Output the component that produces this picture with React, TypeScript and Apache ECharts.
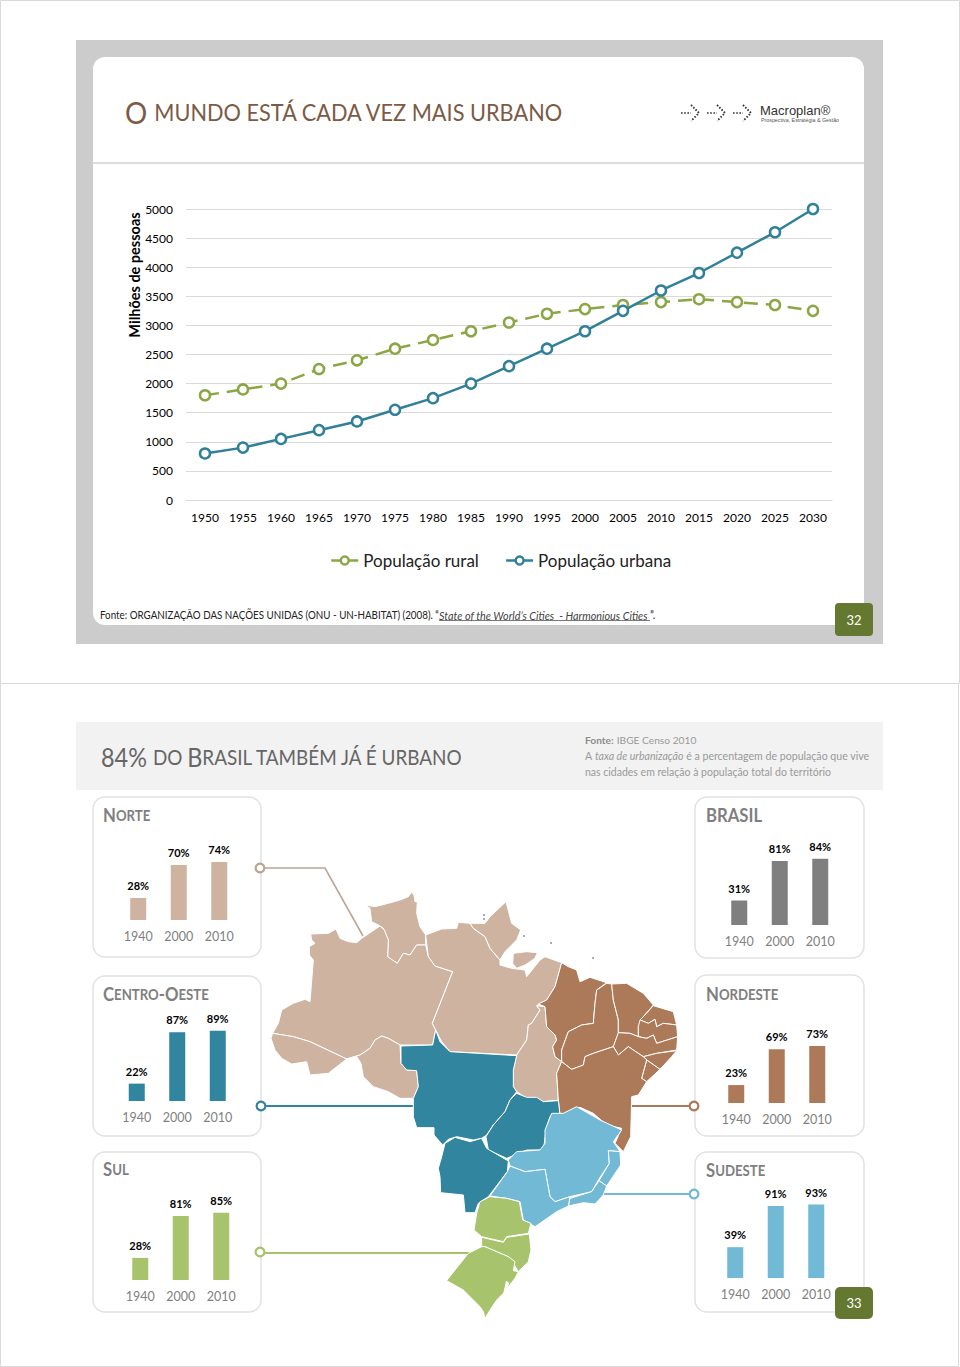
import React, { useEffect, useRef } from "react";
import * as echarts from "echarts";

const years = ["1950","1955","1960","1965","1970","1975","1980","1985","1990","1995","2000","2005","2010","2015","2020","2025","2030"];
const rural = [1800,1900,2000,2250,2400,2600,2750,2900,3050,3200,3280,3350,3400,3450,3400,3350,3250];
const urbana = [800,900,1050,1200,1350,1550,1750,2000,2300,2600,2900,3250,3600,3900,4250,4600,5000];
const censusYears = ["1940","2000","2010"];
const norte = [28,70,74];
const brasil = [31,81,84];
const centroOeste = [22,87,89];
const nordeste = [23,69,73];
const sul = [28,81,85];
const sudeste = [39,91,93];

const C = { norte:"#CEB3A1", nordeste:"#AD7A59", co:"#31859F", se:"#71B9D4", sul:"#A7C36B", brasil:"#7F7F7F", ruralLine:"#8BA644", urbanLine:"#31809A", green:"#64782F" };
const FONT = "Lato";

const panels = [
  { big:"N", small:"ORTE", values:norte, color:C.norte, card:[93,797,168,160], left:118, base:920, scale:78.5, tx:103, ty:815 },
  { big:"BRASIL", small:"", values:brasil, color:C.brasil, card:[695,797,169,161], left:719, base:925, scale:79, tx:706, ty:815 },
  { big:"C", small:"ENTRO", big2:"-O", small2:"ESTE", values:centroOeste, color:C.co, card:[93,976,168,160], left:116.5, base:1101, scale:79, tx:103, ty:994 },
  { big:"N", small:"ORDESTE", values:nordeste, color:C.nordeste, card:[695,975,169,161], left:716, base:1103, scale:78, tx:706, ty:994 },
  { big:"S", small:"UL", values:sul, color:C.sul, card:[93,1152,168,160], left:120, base:1280, scale:79, tx:103, ty:1169 },
  { big:"S", small:"UDESTE", values:sudeste, color:C.se, card:[695,1152,169,160], left:715, base:1278, scale:79, tx:706, ty:1170 },
];

const a = (pts: number[][]) => pts.map(([x,y]) => [260 + x/3, 860 + y/3]);
const b = (pts: number[][]) => pts.map(([x,y]) => [400 + x/3, 1080 + y/3]);

const mapNorte = [
  a([[315,135],[345,140],[385,130],[420,120],[445,110],[455,97],[462,105],[465,125],[472,125],[470,160],[480,200],[497,225],[497,255],[470,255],[450,285],[430,280],[412,310],[395,300],[383,290],[385,240],[370,205],[355,195],[335,185],[330,145]]),
  a([[152,222],[205,220],[228,207],[240,235],[265,245],[290,248],[305,235],[360,198],[373,210],[385,240],[383,290],[412,310],[430,280],[450,285],[470,255],[497,255],[505,290],[525,318],[578,335],[517,490],[527,510],[518,555],[420,555],[385,535],[365,528],[345,540],[330,565],[300,585],[260,597],[150,545],[100,530],[38,520],[55,490],[65,450],[100,430],[135,418],[150,425],[160,300],[148,285],[148,260],[165,250],[155,240]]),
  a([[38,520],[100,530],[150,545],[260,597],[205,640],[150,645],[140,605],[95,612],[65,595],[45,570],[33,535]]),
  a([[260,597],[300,585],[330,565],[345,540],[365,528],[385,535],[420,555],[423,610],[440,630],[470,632],[475,680],[460,715],[420,715],[385,695],[340,680],[310,650],[303,610],[290,590]]),
  a([[497,225],[545,207],[590,205],[595,187],[630,190],[640,205],[675,230],[690,265],[720,300],[720,315],[755,325],[795,330],[800,350],[840,300],[855,290],[905,308],[885,380],[860,420],[830,437],[840,450],[815,490],[805,495],[800,540],[770,585],[570,575],[545,545],[527,510],[517,490],[578,335],[525,318],[505,290]]),
  a([[630,190],[675,190],[690,170],[738,125],[755,190],[782,210],[770,240],[735,275],[720,300],[690,265],[675,230],[640,205]]),
  a([[760,280],[800,275],[832,278],[825,295],[795,315],[770,325],[758,310]]),
  a([[830,437],[855,440],[860,500],[885,525],[890,540],[878,560],[885,590],[905,605],[890,640],[895,720],[850,725],[830,715],[800,715],[770,695],[760,680],[760,630],[770,585],[800,540],[805,495],[815,490],[840,450]]),
];
const mapNordeste = [
  a([[905,308],[925,320],[950,330],[960,365],[990,352],[1040,368],[1010,390],[1005,430],[1000,490],[965,495],[925,515],[905,570],[905,605],[885,590],[878,560],[890,540],[885,525],[860,500],[855,440],[835,432],[860,420],[885,380]]),
  a([[1040,370],[1055,372],[1060,420],[1075,480],[1075,520],[1060,560],[1000,580],[975,590],[970,615],[935,628],[905,605],[905,570],[925,515],[965,495],[1000,490],[1005,430],[1010,390]]),
  a([[1055,372],[1100,370],[1150,400],[1180,435],[1150,470],[1135,500],[1135,530],[1110,520],[1075,518],[1075,480],[1060,420]]),
  a([[1180,437],[1240,455],[1250,495],[1210,490],[1190,500],[1185,478],[1165,490],[1140,480],[1150,470]]),
  a([[1140,480],[1165,490],[1185,478],[1190,500],[1210,490],[1250,495],[1253,530],[1190,550],[1180,525],[1160,535],[1135,530],[1135,500]]),
  a([[1075,518],[1110,520],[1135,530],[1160,535],[1180,525],[1190,550],[1253,530],[1250,570],[1190,580],[1150,590],[1105,560],[1075,585],[1060,560]]),
  a([[1150,590],[1190,580],[1250,572],[1235,590],[1200,628],[1160,600]]),
  a([[1160,600],[1200,628],[1160,665],[1145,655]]),
  a([[890,640],[905,605],[935,628],[970,615],[975,590],[1000,580],[1060,560],[1075,585],[1105,560],[1150,590],[1160,600],[1145,655],[1160,665],[1135,705],[1115,710],[1112,830],[1090,875],[1065,850],[1085,805],[1040,795],[1000,760],[960,742],[900,765],[895,720]]),
];
const mapCO = [
  a([[423,558],[518,555],[527,510],[540,545],[570,575],[770,587],[760,630],[760,680],[770,695],[750,720],[735,755],[700,795],[680,825],[665,835],[640,840],[590,830],[565,838],[548,855],[522,825],[522,803],[470,803],[460,770],[460,715],[475,680],[470,632],[440,630],[423,610]]),
  a([[770,700],[800,712],[830,712],[850,725],[895,722],[900,765],[870,770],[860,800],[850,870],[800,870],[740,895],[685,870],[678,830],[700,795],[735,755],[750,720]]),
  b([[135,190],[165,172],[210,185],[245,175],[260,205],[325,243],[322,275],[265,350],[235,370],[225,398],[195,398],[190,345],[122,338],[120,290],[115,265],[125,230]]),
];
const mapSudeste = [
  b([[325,240],[350,215],[420,210],[435,190],[435,150],[455,100],[490,100],[530,80],[600,120],[665,150],[640,185],[660,215],[625,212],[628,250],[595,300],[575,335],[510,350],[465,365],[450,350],[435,268],[375,275],[330,258]]),
  b([[625,212],[660,215],[662,255],[620,318],[597,302],[628,250]]),
  b([[597,302],[620,318],[610,345],[585,372],[550,368],[505,378],[510,355],[575,335]]),
  b([[330,258],[375,275],[435,268],[450,350],[465,365],[510,350],[505,378],[470,395],[405,440],[370,420],[360,365],[320,355],[270,348],[322,275]]),
];
const mapSul = [
  b([[270,350],[320,355],[358,365],[368,420],[393,430],[385,460],[320,470],[310,485],[245,470],[222,450],[230,400],[240,365]]),
  b([[245,472],[310,487],[320,472],[388,462],[393,510],[385,545],[355,575],[340,550],[325,530],[255,500],[245,500]]),
  b([[245,500],[255,500],[325,530],[345,545],[340,572],[355,575],[345,595],[310,640],[290,660],[270,690],[255,715],[250,695],[240,680],[190,630],[140,602],[165,570],[205,520]]),
];
const lagoon = b([[318,602],[328,608],[318,640],[310,640]]);

function text(x: number, y: number, t: string, opt: any = {}, z = 10) {
  return { type:"text", x, y, z, style:{ text:t, fontFamily:FONT, fill:"#000", verticalAlign:"middle", ...opt } };
}
function rect(x: number, y: number, w: number, h: number, style: any, r = 0, z = -1) {
  return { type:"rect", z, shape:{ x, y, width:w, height:h, r }, style };
}
function line(pts: number[][], stroke: string, lineWidth = 2, z = 3, extra: any = {}) {
  return { type:"polyline", z, shape:{ points:pts }, style:{ stroke, lineWidth, fill:"none", ...extra } };
}
function node(x: number, y: number, stroke: string) {
  return { type:"circle", z:6, shape:{ cx:x, cy:y, r:4.4 }, style:{ fill:"#fff", stroke, lineWidth:2.2 } };
}
const poly = (list: number[][][], fill: string) => list.map((points) => ({ type:"polygon", z:4, shape:{ points }, style:{ fill, stroke:"#fff", lineWidth:1, lineJoin:"round" } }));

function logoArrow(x: number) {
  const s = { lineDash:[1.6,1.6] };
  return [
    line([[x,113],[x+10,113]], "#333", 1.7, 5, s),
    line([[x+10,105],[x+18,113],[x+10,121]], "#333", 1.9, 5, s),
  ];
}

function buildGraphic() {
  const els: any[] = [];
  els.push(rect(0.5,0.5,959,683,{ fill:"#fff", stroke:"#D9D9D9", lineWidth:1 }, 0, -3));
  els.push(rect(0.5,683.5,958,683,{ fill:"#fff", stroke:"#D9D9D9", lineWidth:1 }, 0, -3));
  els.push(rect(76,40,807,604,{ fill:"#CCCCCC" }));
  els.push(rect(93,57,771,568,{ fill:"#fff" },12));
  els.push(line([[93,163],[864,163]],"#D2D2D2",1.5,0));
  els.push({ type:"text", x:125, y:112, scaleX:0.925, z:10, style:{ text:"{a|O }{b|MUNDO ESTÁ CADA VEZ MAIS URBANO}", fontFamily:FONT, verticalAlign:"middle", rich:{ a:{ fontSize:30, fill:"#7B5B46", fontFamily:FONT }, b:{ fontSize:23.5, fill:"#7B5B46", fontFamily:FONT } } } });
  els.push(...logoArrow(681), ...logoArrow(707), ...logoArrow(733));
  els.push(text(760,110,"Macroplan®",{ fontFamily:"Liberation Sans", fontSize:13, fill:"#333" }));
  els.push(text(761,120,"Prospectiva, Estratégia & Gestão",{ fontFamily:"Liberation Sans", fontSize:5.3, fill:"#555" }));
  els.push({ type:"text", x:134, y:275, rotation:Math.PI/2, z:10, style:{ text:"Milhões de pessoas", fontFamily:FONT, fontSize:14.5, fontWeight:"bold", fill:"#000", align:"center", verticalAlign:"middle" } });
  els.push({ type:"text", x:100, y:615, scaleX:0.934, z:10, style:{ text:"Fonte: ORGANIZAÇÃO DAS NAÇÕES UNIDAS (ONU - UN-HABITAT) (2008). “", fontFamily:FONT, fontSize:10.5, fill:"#222", verticalAlign:"middle" } });
  els.push({ type:"text", x:439, y:615, z:10, style:{ text:"State of the World’s Cities  - Harmonious Cities", fontFamily:FONT, fontSize:10.8, fontStyle:"italic", fill:"#444", verticalAlign:"middle" } });
  els.push(text(650,615,"”.",{ fontSize:10.5, fill:"#222" }));
  els.push(line([[439,620.5],[650,620.5]],"#555",0.8,10));
  els.push(rect(835,603,38,33,{ fill:C.green },4,8));
  els.push(text(854,619.5,"32",{ fill:"#fff", fontSize:13, align:"center" }));

  els.push(rect(76,722,807,68,{ fill:"#F2F2F2" }));
  els.push({ type:"text", x:101, y:757, scaleX:0.9, z:10, style:{ text:"{a|84% }{b|DO }{a|B}{b|RASIL TAMBÉM JÁ É URBANO}", fontFamily:FONT, verticalAlign:"middle", rich:{ a:{ fontSize:26, fill:"#666", fontFamily:FONT }, b:{ fontSize:21, fill:"#666", fontFamily:FONT } } } });
  els.push({ type:"text", x:585, y:740, z:10, style:{ text:"{b|Fonte:} {a|IBGE Censo 2010}", fontFamily:FONT, verticalAlign:"middle", rich:{ b:{ fontSize:10.2, fontWeight:"bold", fill:"#8C8C8C", fontFamily:FONT }, a:{ fontSize:10.2, fill:"#999", fontFamily:FONT } } } });
  els.push({ type:"text", x:585, y:756, z:10, style:{ text:"{a|A }{i|taxa de urbanização}{a| é a percentagem de população que vive}", fontFamily:FONT, verticalAlign:"middle", rich:{ a:{ fontSize:10.6, fill:"#999", fontFamily:FONT }, i:{ fontSize:10.6, fontStyle:"italic", fill:"#999", fontFamily:FONT } } } });
  els.push(text(585,772,"nas cidades em relação à população total do território",{ fontSize:10.5, fill:"#999" }));

  panels.forEach((p: any) => {
    const [x,y,w,h] = p.card;
    els.push(rect(x,y,w,h,{ fill:"#fff", stroke:"#E2E2E2", lineWidth:1.5 },12,-1));
    const rich = { a:{ fontSize:19, fontWeight:"bold", fill:"#7F7F7F", fontFamily:FONT }, b:{ fontSize:15, fontWeight:"bold", fill:"#7F7F7F", fontFamily:FONT } };
    let s = `{a|${p.big}}`;
    if (p.small) s += `{b|${p.small}}`;
    if (p.big2) s += `{a|${p.big2}}{b|${p.small2}}`;
    els.push({ type:"text", x:p.tx, y:p.ty, scaleX:0.88, z:10, style:{ text:s, fontFamily:FONT, verticalAlign:"middle", rich } });
  });

  els.push(...poly(mapNorte,C.norte), ...poly(mapNordeste,C.nordeste), ...poly(mapCO,C.co), ...poly(mapSudeste,C.se), ...poly(mapSul,C.sul));
  els.push({ type:"polygon", z:5, shape:{ points:lagoon }, style:{ fill:"#fff" } });

  els.push(line([[264,868],[325,868],[363,936]],"#BBA594",1.6,3), node(260,868,"#BBA594"));
  els.push(line([[265,1106],[415,1106]],C.co,2,3), node(261,1106,C.co));
  els.push(line([[630,1106],[690,1106]],C.nordeste,2,3), node(694,1106,C.nordeste));
  els.push(line([[604,1194],[690,1194]],C.se,2,3), node(694,1194,C.se));
  els.push(line([[264,1253],[478,1253]],C.sul,2,3), node(260,1252,C.sul));

  [[484,915],[484,919],[524,936],[551,943],[593,958]].forEach(([cx,cy]) => {
    els.push({ type:"circle", z:5, shape:{ cx, cy, r:0.7 }, style:{ fill:"#223" } });
  });

  els.push(rect(835,1287,38,32,{ fill:C.green },5,8));
  els.push(text(854,1303,"33",{ fill:"#fff", fontSize:13, align:"center" }));
  return els;
}

export default function App() {
  const ref = useRef<HTMLDivElement>(null);
  useEffect(() => {
    const chart = echarts.init(ref.current!, undefined, { renderer:"svg" });
    const grids: any[] = [{ left:186, top:209, width:646, height:291 }];
    const xAxes: any[] = [{
      type:"category", gridIndex:0, data:years, boundaryGap:true,
      axisLine:{ lineStyle:{ color:"#D9D9D9" } }, axisTick:{ show:false },
      axisLabel:{ color:"#000", fontSize:12, fontFamily:FONT, margin:11, interval:0 },
    }];
    const yAxes: any[] = [{
      type:"value", gridIndex:0, min:0, max:5000, interval:500,
      axisLine:{ show:false }, axisTick:{ show:false },
      axisLabel:{ color:"#000", fontSize:12, fontFamily:FONT, margin:13, formatter:(v: number) => String(v) },
      splitLine:{ lineStyle:{ color:"#D9D9D9" } },
    }];
    const series: any[] = [
      { name:"População rural", type:"line", data:rural, xAxisIndex:0, yAxisIndex:0, symbol:"circle", symbolSize:10,
        lineStyle:{ color:C.ruralLine, width:2.5, type:[14,8] }, itemStyle:{ color:"#fff", borderColor:C.ruralLine, borderWidth:2.5 }, z:3 },
      { name:"População urbana", type:"line", data:urbana, xAxisIndex:0, yAxisIndex:0, symbol:"circle", symbolSize:10,
        lineStyle:{ color:C.urbanLine, width:2.5 }, itemStyle:{ color:"#fff", borderColor:C.urbanLine, borderWidth:2.5 }, z:4 },
    ];
    panels.forEach((p: any, i) => {
      const g = i + 1;
      grids.push({ left:p.left, top:p.base - p.scale, width:121.5, height:p.scale });
      xAxes.push({ type:"category", gridIndex:g, data:censusYears, axisLine:{ show:false }, axisTick:{ show:false },
        axisLabel:{ color:"#7F7F7F", fontSize:12.5, fontFamily:FONT, margin:10, interval:0 } });
      yAxes.push({ type:"value", gridIndex:g, min:0, max:100, show:false });
      series.push({ type:"bar", xAxisIndex:g, yAxisIndex:g, data:p.values, barWidth:16, z:5,
        itemStyle:{ color:p.color },
        label:{ show:true, position:"top", distance:7, formatter:"{c}%", color:"#000", fontWeight:"bold", fontSize:11, fontFamily:FONT } });
    });
    chart.setOption({
      animation:false,
      textStyle:{ fontFamily:FONT },
      grid:grids, xAxis:xAxes, yAxis:yAxes, series,
      legend:{ data:[
          { name:"População rural", itemStyle:{ color:"#fff", borderColor:C.ruralLine, borderWidth:2.5 }, lineStyle:{ color:C.ruralLine, width:2.5, type:"solid" } },
          { name:"População urbana", itemStyle:{ color:"#fff", borderColor:C.urbanLine, borderWidth:2.5 }, lineStyle:{ color:C.urbanLine, width:2.5, type:"solid" } },
        ],
        left:325, top:547, itemWidth:27, itemHeight:10, itemGap:26,
        textStyle:{ color:"#222", fontSize:17, fontFamily:FONT } },
      graphic:{ elements:buildGraphic() },
    });
    return () => chart.dispose();
  }, []);
  return <div ref={ref} style={{ position:"absolute", left:0, top:0, width:960, height:1367 }} />;
}
